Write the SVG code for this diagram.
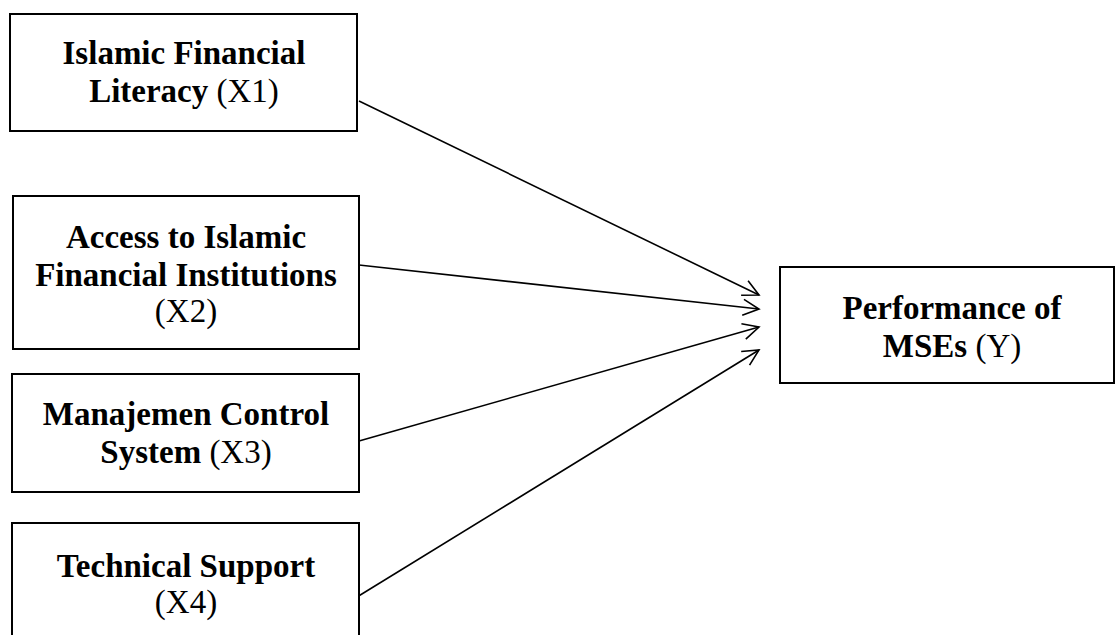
<svg xmlns="http://www.w3.org/2000/svg" width="1116" height="635" viewBox="0 0 1116 635">
<defs>
<style>
.box{fill:#fff;stroke:#000;stroke-width:2}
.t{font-family:"Liberation Serif","Times New Roman",serif;font-size:33px;font-weight:bold;fill:#000;text-anchor:middle}
.r{font-weight:normal}
.c{stroke:#000;stroke-width:1.6;fill:none}
</style>
<marker id="ah" viewBox="0 0 20 20" refX="18" refY="10" markerWidth="20" markerHeight="20" markerUnits="userSpaceOnUse" orient="auto">
<path d="M2,2 L18,10 L2,18" fill="none" stroke="#000" stroke-width="1.6"/>
</marker>
</defs>
<rect width="1116" height="635" fill="#fff"/>
<g id="connectors">
<line class="c" x1="359" y1="101" x2="759" y2="295" marker-end="url(#ah)"/>
<line class="c" x1="359" y1="265" x2="759" y2="309" marker-end="url(#ah)"/>
<line class="c" x1="359" y1="441" x2="759" y2="327" marker-end="url(#ah)"/>
<line class="c" x1="357" y1="597" x2="759" y2="350" marker-end="url(#ah)"/>
</g>
<g id="x1">
<rect class="box" x="10" y="14" width="347" height="117"/>
<text class="t" x="184" y="64">Islamic Financial</text>
<text class="t" x="184" y="102">Literacy <tspan class="r">(X1)</tspan></text>
</g>
<g id="x2">
<rect class="box" x="13" y="196" width="346" height="153"/>
<text class="t" x="186" y="248">Access to Islamic</text>
<text class="t" x="186" y="286">Financial Institutions</text>
<text class="t" x="186" y="322"><tspan class="r">(X2)</tspan></text>
</g>
<g id="x3">
<rect class="box" x="12" y="374" width="347" height="118"/>
<text class="t" x="186" y="425">Manajemen Control</text>
<text class="t" x="186" y="463">System <tspan class="r">(X3)</tspan></text>
</g>
<g id="x4">
<rect class="box" x="12" y="523" width="347" height="130"/>
<text class="t" x="186" y="577">Technical Support</text>
<text class="t" x="186" y="613"><tspan class="r">(X4)</tspan></text>
</g>
<g id="y">
<rect class="box" x="780" y="267" width="334" height="116"/>
<text class="t" x="952" y="319">Performance of</text>
<text class="t" x="952" y="357">MSEs <tspan class="r">(Y)</tspan></text>
</g>
</svg>
